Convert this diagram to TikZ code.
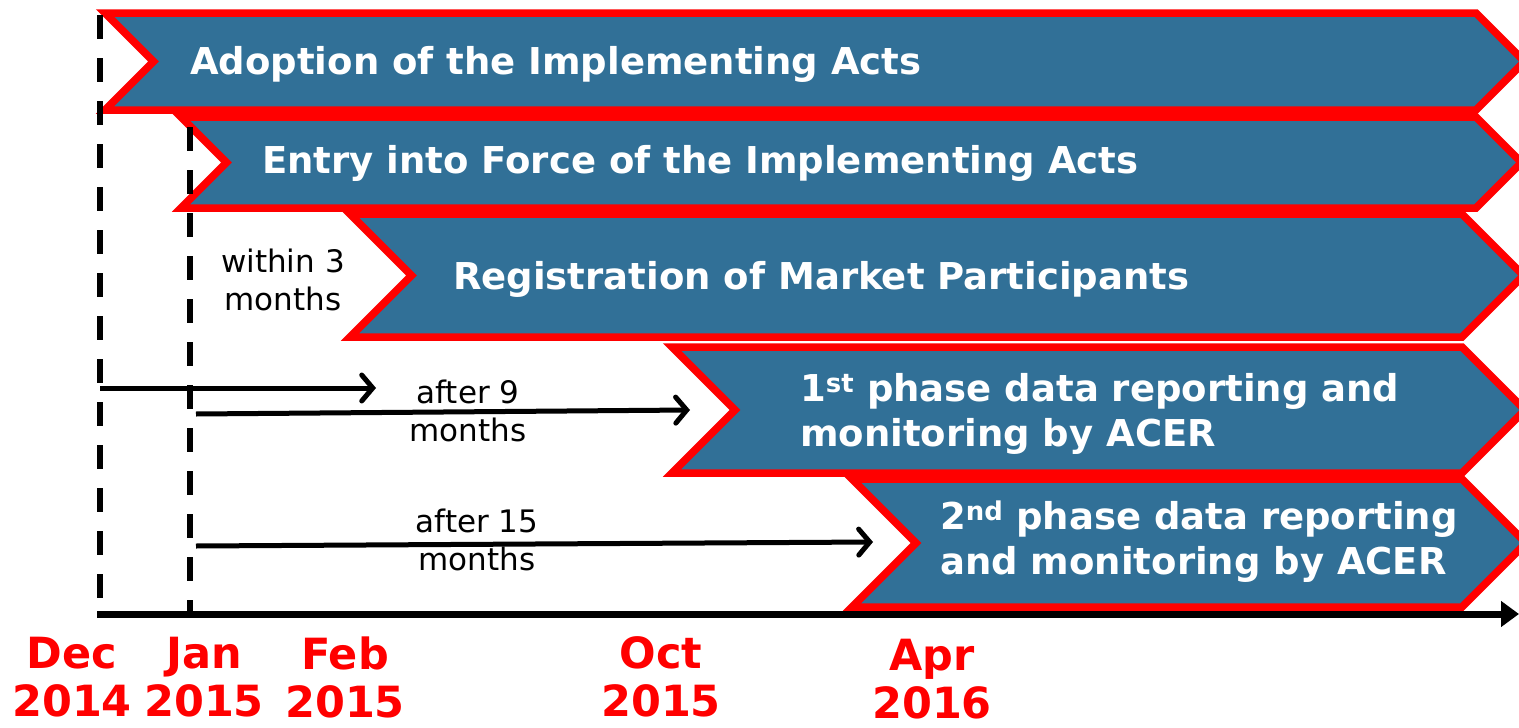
\documentclass[tikz,border=0pt]{standalone}
\usepackage{fontspec}
\setmainfont{DejaVu Sans}
\usetikzlibrary{arrows.meta, positioning}
\definecolor{bannerblue}{RGB}{49, 112, 151}
\definecolor{edgered}{RGB}{255, 0, 0}

\begin{document}
\begin{tikzpicture}[
    x=1pt, y=-1pt,
    banner/.style={draw=edgered, fill=bannerblue, line width=7.5pt, line join=miter},
    bannertext/.style={anchor=west, inner sep=0pt, align=left, text=white, font=\fontsize{37}{45}\selectfont\bfseries},
    note/.style={inner sep=0pt, align=center, font=\fontsize{31}{38}\selectfont},
    date/.style={inner sep=0pt, align=center, text=edgered, font=\fontsize{43}{48}\selectfont\bfseries},
    guide/.style={line width=5.5pt, dash pattern=on 24pt off 19pt},
    arrow/.style={line width=5pt, -{Straight Barb[length=11pt, width=26pt, line width=5pt, line cap=round]}},
    axis/.style={line width=7pt, -{Triangle[length=18pt, width=25pt]}}
]
\useasboundingbox (0,0) rectangle (1519,728);

% Banners
\foreach \xl/\yt/\yb/\xr in {105/13/110/1476, 181/117/208/1476, 350/214/337/1462, 672/347/473/1462, 852/479/607/1462}{
  \pgfmathsetmacro\h{(\yb-\yt)/2}
  \pgfmathsetmacro\ym{(\yb+\yt)/2}
  \draw[banner] (\xl,\yt) -- (\xr,\yt) -- (\xr+\h,\ym) -- (\xr,\yb) -- (\xl,\yb) -- (\xl+\h,\ym) -- cycle;
}

% Banner texts
\node[bannertext] (adopt) at (190,64) {Adoption of the Implementing Acts};
\node[bannertext] (entry) at (262,163) {Entry into Force of the Implementing Acts};
\node[bannertext] (register) at (453,279) {Registration of Market Participants};
\node[bannertext] (phaseone) at (800,414) {1\textsuperscript{st} phase data reporting and\\monitoring by ACER};
\node[bannertext] (phasetwo) at (940,542) {2\textsuperscript{nd} phase data reporting\\and monitoring by ACER};

% Guides
\coordinate (decTop) at (100,15);
\coordinate (decBot) at (100,614);
\coordinate (janTop) at (190,127);
\coordinate (janBot) at (190,614);
\draw[guide] (decTop) -- (decBot);
\draw[guide] (janTop) -- (janBot);

% Axis
\coordinate (axisL) at (97,614);
\coordinate (axisR) at (1519,614);
\draw[axis] (axisL) -- (axisR);

% Durations
\coordinate (decA) at (100,388);
\coordinate (febA) at (376,388);
\coordinate (janB) at (196,414);
\coordinate (octB) at (690,410);
\coordinate (janC) at (196,546);
\coordinate (aprC) at (873,542);
\draw[arrow] (decA) -- (febA);
\draw[arrow] (janB) -- (octB);
\draw[arrow] (janC) -- (aprC);

\node[note] (within) at (283,280) {within 3\\months};
\node[note] (afternine) at (468,411) {after 9\\months};
\node[note] (afterfifteen) at (477,540) {after 15\\months};

% Dates
\node[date] (dec) at (72,677) {Dec\\2014};
\node[date] (jan) at (204,677) {Jan\\2015};
\node[date] (feb) at (345,677) {Feb\\2015};
\node[date] (oct) at (661,677) {Oct\\2015};
\node[date] (apr) at (932,679) {Apr\\2016};

\end{tikzpicture}
\end{document}
